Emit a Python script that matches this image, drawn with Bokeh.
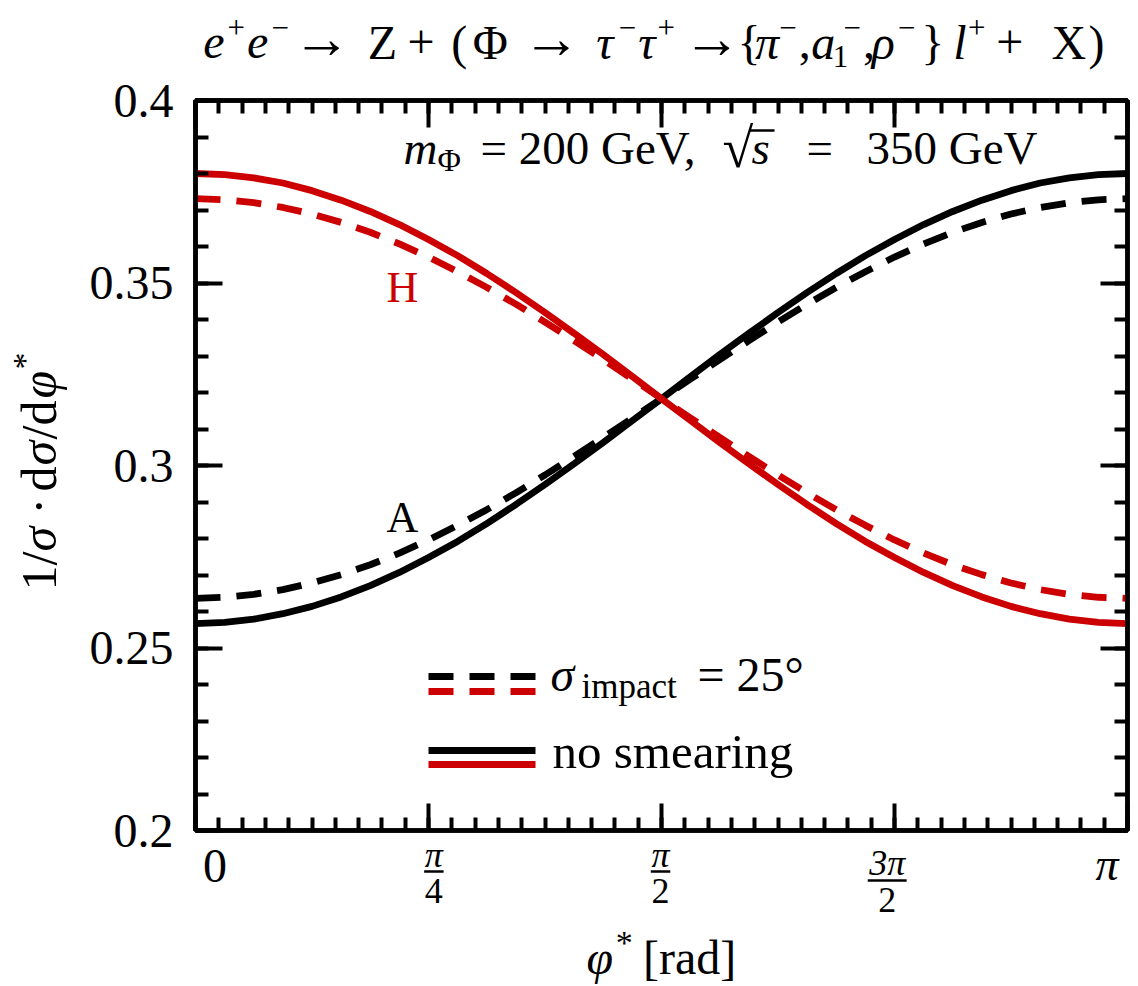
import numpy as np
from bokeh.plotting import figure
from bokeh.layouts import column, row
from bokeh.models import Range1d, FixedTicker, LinearAxis, Label
from bokeh.embed import file_html
from bokeh.resources import INLINE

# ---------------- data ----------------
phi_over_pi = [0.0, 0.03125, 0.0625, 0.09375, 0.125, 0.15625, 0.1875, 0.21875, 0.25,
               0.28125, 0.3125, 0.34375, 0.375, 0.40625, 0.4375, 0.46875, 0.5,
               0.53125, 0.5625, 0.59375, 0.625, 0.65625, 0.6875, 0.71875, 0.75,
               0.78125, 0.8125, 0.84375, 0.875, 0.90625, 0.9375, 0.96875, 1.0]
H_no_smearing = [0.3800, 0.3797, 0.3788, 0.3774, 0.3753, 0.3727, 0.3696, 0.3660, 0.3619,
                 0.3575, 0.3526, 0.3474, 0.3419, 0.3362, 0.3304, 0.3244, 0.3183,
                 0.3123, 0.3063, 0.3005, 0.2948, 0.2893, 0.2841, 0.2792, 0.2748,
                 0.2707, 0.2671, 0.2640, 0.2614, 0.2594, 0.2579, 0.2570, 0.2567]
H_impact25 = [0.3731, 0.3728, 0.3720, 0.3707, 0.3689, 0.3666, 0.3639, 0.3607, 0.3571,
              0.3531, 0.3488, 0.3442, 0.3393, 0.3342, 0.3290, 0.3237, 0.3183,
              0.3130, 0.3077, 0.3025, 0.2974, 0.2925, 0.2879, 0.2836, 0.2796,
              0.2760, 0.2728, 0.2701, 0.2678, 0.2660, 0.2647, 0.2639, 0.2636]
A_no_smearing = [0.2567, 0.2570, 0.2579, 0.2594, 0.2614, 0.2640, 0.2671, 0.2707, 0.2748,
                 0.2792, 0.2841, 0.2893, 0.2948, 0.3005, 0.3063, 0.3123, 0.3183,
                 0.3244, 0.3304, 0.3362, 0.3419, 0.3474, 0.3526, 0.3575, 0.3619,
                 0.3660, 0.3696, 0.3727, 0.3753, 0.3774, 0.3788, 0.3797, 0.3800]
A_impact25 = [0.2636, 0.2639, 0.2647, 0.2660, 0.2678, 0.2701, 0.2728, 0.2760, 0.2796,
              0.2836, 0.2879, 0.2925, 0.2974, 0.3025, 0.3077, 0.3130, 0.3183,
              0.3237, 0.3290, 0.3342, 0.3393, 0.3442, 0.3488, 0.3531, 0.3571,
              0.3607, 0.3639, 0.3666, 0.3689, 0.3707, 0.3720, 0.3728, 0.3731]

y_major = [0.2, 0.25, 0.3, 0.35, 0.4]
y_major_labels = ["0.2", "0.25", "0.3", "0.35", "0.4"]
x_major_over_pi = [0.0, 0.25, 0.5, 0.75, 1.0]
x_labels_num = ["0", "π", "π", "3π", "π"]
x_labels_den = [None, "4", "2", "2", None]

RED = "#cc0000"
SERIF = "Liberation Serif"

W, H = 1138, 986
FL, FT, FW, FH = 195, 100, 932, 730     # plot frame in page pixels
LW = 180                                 # width of the left strip (y label + tick labels)
TH = 97                                  # height of the title strip
MB = 3                                   # small border of the main plot (top/bottom)
MID_BOT = FT + FH + MB                   # bottom of the main plot (833)
CEN = 0.3375                             # label anchor -> baseline offset (em)


def blank(width, height, xr, yr):
    f = figure(width=width, height=height, x_range=Range1d(*xr), y_range=Range1d(*yr),
               x_axis_type=None, y_axis_type=None, min_border=0,
               min_border_left=0, min_border_right=0, min_border_top=0, min_border_bottom=0,
               output_backend="svg", toolbar_location=None, title=None)
    f.outline_line_color = None
    f.background_fill_color = "white"
    f.border_fill_color = "white"
    return f


def put(fig, x, y, s, size, style="normal", color="black", align="left", angle=0.0,
        conv=None):
    # (x, y): baseline start in page pixels
    if angle == 0.0:
        ax, ay = x, y - CEN * size
    else:
        ax, ay = x - CEN * size, y
    if conv is not None:
        ax, ay = conv(ax, ay)
    fig.add_layout(Label(x=ax, y=ay, text=s, text_font=SERIF,
                         text_font_size=f"{size}px", text_font_style=style,
                         text_color=color, text_align=align,
                         text_baseline="alphabetic", angle=angle))


# ---------------- main plot ----------------
p = figure(frame_width=FW, frame_height=FH,
           x_range=Range1d(0, np.pi), y_range=Range1d(0.2, 0.4),
           x_axis_type=None, y_axis_type=None,
           min_border_left=FL - LW, min_border_right=W - FL - FW,
           min_border_top=FT - TH, min_border_bottom=MB,
           output_backend="svg", toolbar_location=None, title=None)
p.outline_line_color = "black"
p.outline_line_width = 4.5
p.background_fill_color = "white"
p.border_fill_color = "white"

x_major = [f * np.pi for f in x_major_over_pi]
x_minor = [k * np.pi / 40 for k in range(41)]
y_minor = [0.2 + 0.01 * k for k in range(21)]

yt = FixedTicker(ticks=y_major, minor_ticks=y_minor)
xt = FixedTicker(ticks=x_major, minor_ticks=x_minor)
for ticker, vals, side in [(yt, y_major, "left"), (yt, y_major, "right"),
                           (xt, x_major, "below"), (xt, x_major, "above")]:
    ax = LinearAxis(ticker=ticker)
    ax.axis_line_width = 4.5
    ax.axis_line_color = "black"
    ax.major_tick_in = 27
    ax.major_tick_out = 0
    ax.minor_tick_in = 13
    ax.minor_tick_out = 0
    ax.major_tick_line_width = 4
    ax.minor_tick_line_width = 4
    ax.major_tick_line_cap = "butt"
    ax.minor_tick_line_cap = "butt"
    ax.major_label_overrides = {v: "" for v in vals}
    ax.major_label_text_color = None
    ax.major_label_text_font_size = "0px"
    ax.major_label_standoff = 0
    p.add_layout(ax, side)

phi = [f * np.pi for f in phi_over_pi]
p.line(phi, A_no_smearing, line_color="black", line_width=6.8)
p.line(phi, A_impact25, line_color="black", line_width=6.8, line_dash="25 16")
p.line(phi, H_no_smearing, line_color=RED, line_width=6.8)
p.line(phi, H_impact25, line_color=RED, line_width=6.8, line_dash="25 16")


def X(px):
    return (px - FL) / FW * np.pi


def Y(py):
    return 0.4 - (py - FT) / FH * 0.2


def to_data(px, py):
    return X(px), Y(py)


def putm(px, py, s, size, style="normal", color="black", align="left"):
    put(p, px, py, s, size, style, color, align, conv=to_data)


# annotation  m_Phi = 200 GeV, sqrt(s) = 350 GeV
AB = 163
putm(403, AB, "m", 47, "italic")
putm(437, AB + 7, "Φ", 32)
putm(480, AB, "= 200 GeV,", 47)
putm(722, AB + 3, "√", 56)
putm(751, AB, "s", 47, "italic")
p.segment(x0=[X(749)], y0=[Y(130)], x1=[X(774)], y1=[Y(130)], line_color="black", line_width=2.5)
putm(806, AB, "=", 47)
putm(866, AB, "350 GeV", 47)

# curve labels
putm(386, 302, "H", 44, color=RED)
putm(386, 532, "A", 44)

# legend
for py, col, dash in [(676, "black", "25 16"), (691, RED, "25 16"),
                      (750, "black", "solid"), (764, RED, "solid")]:
    p.segment(x0=[X(428)], y0=[Y(py)], x1=[X(535)], y1=[Y(py)],
              line_color=col, line_width=7, line_dash=dash)
putm(550, 690, "σ", 48, "italic")
putm(581, 698, "impact", 35)
putm(697, 690, "= 25°", 48)
putm(552, 768, "no smearing", 49)

# ---------------- title strip ----------------
t = blank(W - LW, TH, (LW, W), (TH, 0))
TB = 58
TS = 48
AS = 58
SS = 31
SUP = TB - 21
SUB = TB + 8
title_runs = [
    (188, TB, "e", TS, "italic"), (213, SUP, "+", SS, "normal"),
    (233, TB, "e", TS, "italic"), (258, SUP, "−", SS, "normal"),
    (280, TB, "→", AS, "normal"), (357, TB, "Z", TS, "normal"),
    (398, TB, "+", TS, "normal"), (443, TB, "(", TS, "normal"),
    (465, TB, "Φ", TS, "normal"), (516, TB, "→", AS, "normal"),
    (592, TB, "τ", TS, "italic"), (615, SUP, "−", SS, "normal"),
    (635, TB, "τ", TS, "italic"), (655, SUP, "+", SS, "normal"),
    (681, TB, "→", AS, "normal"), (737, TB, "{", TS, "normal"),
    (755, TB, "π", TS, "italic"), (780, SUP, "−", SS, "normal"),
    (800, TB, ",", TS, "normal"), (813, TB, "a", TS, "italic"),
    (835, SUB, "1", SS, "normal"), (846, SUP, "−", SS, "normal"),
    (866, TB, ",", TS, "normal"), (875, TB, "ρ", TS, "italic"),
    (902, SUP, "−", SS, "normal"), (926, TB, "}", TS, "normal"),
    (959, TB, "l", TS, "italic"), (974, SUP, "+", SS, "normal"),
    (1003, TB, "+", TS, "normal"), (1060, TB, "X", TS, "normal"),
    (1098, TB, ")", TS, "normal"),
]
for px, py, s, sz, st in title_runs:
    put(t, px, py, s, sz, st)

# ---------------- left strip (y tick labels + y label) ----------------
lf = blank(LW, H, (0, LW), (H, 0))
for v, s in zip(y_major, y_major_labels):
    ty = FT + (0.4 - v) / 0.2 * FH
    put(lf, 173, ty + CEN * 48, s, 48, align="right")

ANG = np.pi / 2
YB = 55
put(lf, YB, 590, "1/", 50, angle=ANG)
put(lf, YB, 551, "σ", 50, "italic", angle=ANG)
put(lf, YB, 514, "·", 50, angle=ANG)
put(lf, YB, 491, "d", 50, angle=ANG)
put(lf, YB, 465, "σ", 50, "italic", angle=ANG)
put(lf, YB, 439, "/d", 50, angle=ANG)
put(lf, YB, 398, "φ", 50, "italic", angle=ANG)
put(lf, YB - 20, 369, "*", 34, angle=ANG)

# ---------------- bottom strip (x tick labels, x label) ----------------
b = blank(W - LW, H - MID_BOT, (LW, W), (H, MID_BOT))
for f, num, den in zip(x_major_over_pi, x_labels_num, x_labels_den):
    cx = FL + f * FW
    if den is None:
        if num == "0":
            put(b, cx + 5, 882, num, 48, align="center")
        else:
            put(b, cx - 10, 880, num, 46, "italic", align="center")
    else:
        tall = num.startswith("3")
        nb = 875 if tall else 867
        by = 880 if tall else 871
        db = 912 if tall else 903
        half = 20 if tall else 10
        put(b, cx - 3, nb, num, 36, "italic", align="center")
        b.segment(x0=[cx - 3 - half], y0=[by], x1=[cx - 3 + half], y1=[by],
                  line_color="black", line_width=2.5)
        put(b, cx - 3, db, den, 36, align="center")

put(b, 582, 973, "φ", 48, "italic")
put(b, 612, 953, "*", 34)
put(b, 640, 973, "[rad]", 48)

layout = row(lf, column(t, p, b))
open("out.html", "w").write(file_html(layout, INLINE))
